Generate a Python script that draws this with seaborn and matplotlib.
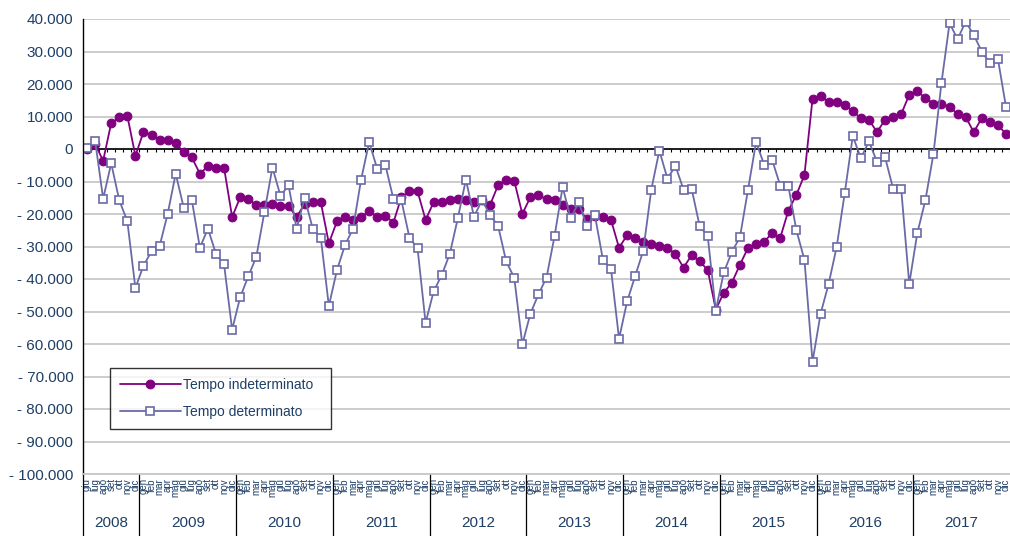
import matplotlib
matplotlib.use('Agg')
import matplotlib.pyplot as plt
import matplotlib.transforms as mtransforms
import seaborn as sns

mesi = ['gen', 'feb', 'mar', 'apr', 'mag', 'giu', 'lug', 'ago', 'set', 'ott', 'nov', 'dic']
anni = [2008, 2009, 2010, 2011, 2012, 2013, 2014, 2015, 2016, 2017]

# saldi mensili, da giugno 2008 a dicembre 2017
indeterminato = [
    0, 1500, -3600, 8000, 9700, 10200, -2100,
    5200, 4400, 2900, 2900, 1800, -1000, -2600, -7600, -5300, -5700, -5800, -20900,
    -14900, -15300, -17300, -17300, -16800, -17600, -17600, -20900, -16900, -16400, -16400, -29000,
    -22300, -20800, -21800, -20800, -19200, -20800, -20500, -22700, -14800, -13000, -13000, -21800,
    -16400, -16400, -15800, -15400, -15800, -16400, -15800, -17200, -11100, -9400, -9800, -20000,
    -14800, -14300, -15400, -15800, -17200, -18400, -18400, -21600, -20500, -20800, -21800, -30400,
    -26500, -27300, -28500, -29200, -29900, -30400, -32300, -36500, -32700, -34600, -37200, -49400,
    -44200, -41100, -35600, -30400, -29200, -28500, -25900, -27300, -19000, -14100, -8000, 15400,
    16300, 14400, 14400, 13500, 11700, 9400, 9000, 5200, 9000, 10000, 10700, 16700,
    17700, 15700, 14000, 14000, 13000, 10700, 9900, 5200, 9500, 8400, 7400, 4600,
]
determinato = [
    300, 2600, -15300, -4400, -15800, -22200, -42800,
    -35900, -31500, -29900, -20000, -7600, -18100, -15700, -30400, -24500, -32300, -35500, -55600,
    -45600, -39200, -33200, -19500, -5700, -14400, -11200, -24500, -15000, -24500, -27300, -48300,
    -37300, -29600, -24500, -9400, 2100, -6100, -4800, -15300, -15800, -27300, -30500, -53500,
    -43800, -38800, -32300, -21300, -9400, -20800, -15800, -20300, -23700, -34600, -39600, -60100,
    -50700, -44700, -39600, -26800, -11700, -21300, -16400, -23700, -20300, -34100, -36900, -58400,
    -46900, -39100, -31300, -12500, -500, -9100, -5200, -12500, -12200, -23700, -26800, -49700,
    -37900, -31700, -27100, -12500, 2100, -4800, -3400, -11300, -11300, -25000, -34100, -65500,
    -50700, -41500, -30100, -13500, 4000, -2900, 2400, -4000, -2500, -12200, -12200, -41500,
    -25900, -15800, -1600, 20400, 38700, 33800, 39200, 35100, 30000, 26400, 27700, 13000,
]

periodi = [(a, m) for a in anni for m in range(12) if not (a == 2008 and m < 5)]
idx = list(range(len(periodi)))
etichette = [mesi[m] for a, m in periodi]

blu = '#1F3F66'
viola = '#800080'
grigio_blu = '#6A6AA6'

sns.set_style('white')
plt.rcParams['font.family'] = ['Liberation Sans', 'DejaVu Sans']

fig = plt.figure(figsize=(10.1, 5.36), dpi=100)
ax = fig.add_axes([83 / 1010, 62 / 536, 927 / 1010, 455 / 536])

sns.lineplot(x=idx, y=indeterminato, ax=ax, color=viola, marker='o', markersize=6.3,
             markeredgecolor=viola, linewidth=1.3, label='Tempo indeterminato')
sns.lineplot(x=idx, y=determinato, ax=ax, color=grigio_blu, marker='s', markersize=6.3,
             markerfacecolor='white', markeredgecolor=grigio_blu, markeredgewidth=1.2,
             linewidth=1.3, label='Tempo determinato')

ax.set_xlim(-0.5, 113.57)
ax.set_ylim(-100000, 40000)

# asse y
yt = list(range(-100000, 40001, 10000))
def fmt(v):
    if v == 0:
        return '0'
    s = f"{abs(v):,}".replace(',', '.')
    return ('- ' + s) if v < 0 else s
ax.set_yticks(yt)
ax.set_yticklabels([fmt(v) for v in yt])
ax.tick_params(axis='y', length=4, width=1, color='black', labelsize=11,
               labelcolor=blu, direction='out', pad=3)
ax.yaxis.grid(True, color='#C8C8C8', linewidth=1.3)
ax.xaxis.grid(False)
ax.set_axisbelow(True)

for s in ['top', 'right']:
    ax.spines[s].set_visible(False)
ax.spines['left'].set_color('black')
ax.spines['left'].set_linewidth(1.0)
ax.spines['bottom'].set_color('#C8C8C8')
ax.spines['bottom'].set_linewidth(1.3)

# asse x: mesi in verticale, separatori tra categorie
bordi = [i - 0.5 for i in idx] + [idx[-1] + 0.5]
ax.set_xticks(idx)
ax.set_xticklabels(etichette)
ax.set_xticks(bordi, minor=True)
ax.tick_params(axis='x', which='major', length=0, pad=3, labelsize=7,
               labelcolor=blu, labelrotation=90)
ax.tick_params(axis='x', which='minor', length=28, width=0.8, color='black')
ax.set_xlabel('')
ax.set_ylabel('')

# linea dello zero con tacche
ax.axhline(0, color='black', linewidth=1.2, zorder=1.5)
ax.vlines(bordi, -900, 0, color='black', linewidth=0.8, zorder=1.5)

# riga degli anni
trans = mtransforms.blended_transform_factory(ax.transData, ax.transAxes)
inizi = [0] + [i for i, (a, m) in enumerate(periodi) if m == 0] + [len(periodi)]
for k, a in enumerate(anni):
    x0 = inizi[k] - 0.5
    x1 = inizi[k + 1] - 0.5
    ax.plot([x0, x0], [0, -0.14], transform=trans, color='black', linewidth=0.9, clip_on=False)
    ax.text((x0 + x1) / 2, -0.108, str(a), transform=trans, ha='center', va='center',
            fontsize=11, color=blu)

leg = ax.legend(loc='upper left', bbox_to_anchor=(0.029, 0.099, 0.238, 0.134), mode='expand',
                borderaxespad=0, frameon=True, fancybox=False, edgecolor='black',
                handlelength=4.4, handletextpad=0.2, labelspacing=0.95, borderpad=0.7,
                fontsize=10, labelcolor=blu)
leg.get_frame().set_linewidth(1.0)

fig.savefig('out.png', dpi=100)
